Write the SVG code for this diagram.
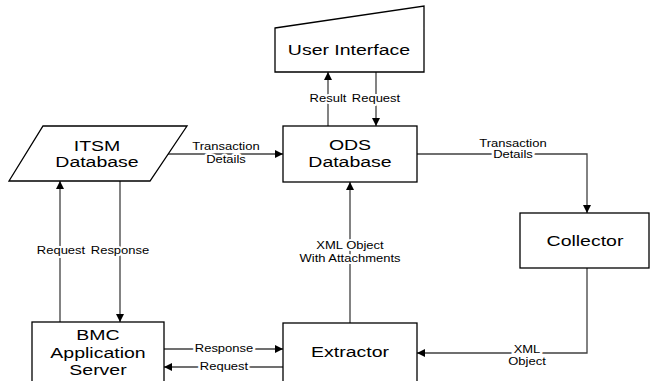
<svg xmlns="http://www.w3.org/2000/svg" width="650" height="381" viewBox="0 0 650 381">
<style>
.box{fill:#fff;stroke:#000;stroke-width:1.3}
.t{font-family:"Liberation Sans",Arial,sans-serif;font-size:15px;fill:#000;text-anchor:middle}
.l{font-family:"Liberation Sans",Arial,sans-serif;font-size:10px;fill:#000;text-anchor:middle;stroke:#fff;stroke-width:4;paint-order:stroke;stroke-linejoin:round}
.c{fill:none;stroke:#404040;stroke-width:1.3;marker-end:url(#ah)}
</style>
<defs>
<marker id="ah" viewBox="0 0 10 10" refX="10" refY="5" markerWidth="8" markerHeight="8" markerUnits="userSpaceOnUse" orient="auto">
<path d="M0,0 L10,5 L0,10 z" fill="#000"/>
</marker>
</defs>
<rect width="650" height="381" fill="#fff"/>
<g id="connectors">
<path class="c" d="M328,126 V72"/>
<path class="c" d="M376,72 V126"/>
<path class="c" d="M168,154 H283"/>
<path class="c" d="M417,154 H587 V213"/>
<path class="c" d="M350,323 V182"/>
<path class="c" d="M587,268 V353 H417"/>
<path class="c" d="M60,322 V181"/>
<path class="c" d="M120,181 V322"/>
<path class="c" d="M164,349 H283"/>
<path class="c" d="M283,367 H164"/>
<text class="l" transform="matrix(1.3 0 0 1 328 102)">Result</text>
<text class="l" transform="matrix(1.3 0 0 1 376 102)">Request</text>
<text class="l" transform="matrix(1.3 0 0 1 226 150)">Transaction</text>
<text class="l" transform="matrix(1.3 0 0 1 226 163)">Details</text>
<text class="l" transform="matrix(1.3 0 0 1 513 147)">Transaction</text>
<text class="l" transform="matrix(1.3 0 0 1 513 158)">Details</text>
<text class="l" transform="matrix(1.3 0 0 1 350 249)">XML Object</text>
<text class="l" transform="matrix(1.3 0 0 1 350 262)">With Attachments</text>
<text class="l" transform="matrix(1.3 0 0 1 527 353)">XML</text>
<text class="l" transform="matrix(1.3 0 0 1 527 365)">Object</text>
<text class="l" transform="matrix(1.3 0 0 1 61 254)">Request</text>
<text class="l" transform="matrix(1.3 0 0 1 120 254)">Response</text>
<text class="l" transform="matrix(1.3 0 0 1 224 352)">Response</text>
<text class="l" transform="matrix(1.3 0 0 1 224 370)">Request</text>
</g>
<g id="user-interface">
<path class="box" d="M275,28 L424,6 V72 H275 Z"/>
<text class="t" transform="matrix(1.3 0 0 1 349 55)">User Interface</text>
</g>
<g id="ods-database">
<rect class="box" x="283" y="126" width="134" height="56"/>
<text class="t" transform="matrix(1.3 0 0 1 350 150)">ODS</text>
<text class="t" transform="matrix(1.3 0 0 1 350 167)">Database</text>
</g>
<g id="itsm-database">
<path class="box" d="M43,126 H187 L150,181 H9 Z"/>
<text class="t" transform="matrix(1.3 0 0 1 97 151)">ITSM</text>
<text class="t" transform="matrix(1.3 0 0 1 97 167)">Database</text>
</g>
<g id="collector">
<rect class="box" x="520" y="213" width="129" height="55"/>
<text class="t" transform="matrix(1.3 0 0 1 585 246)">Collector</text>
</g>
<g id="extractor">
<rect class="box" x="283" y="323" width="134" height="65"/>
<text class="t" transform="matrix(1.3 0 0 1 350 357)">Extractor</text>
</g>
<g id="bmc-server">
<rect class="box" x="32" y="322" width="132" height="66"/>
<text class="t" transform="matrix(1.3 0 0 1 98 340)">BMC</text>
<text class="t" transform="matrix(1.3 0 0 1 98 358)">Application</text>
<text class="t" transform="matrix(1.3 0 0 1 98 375)">Server</text>
</g>
</svg>
